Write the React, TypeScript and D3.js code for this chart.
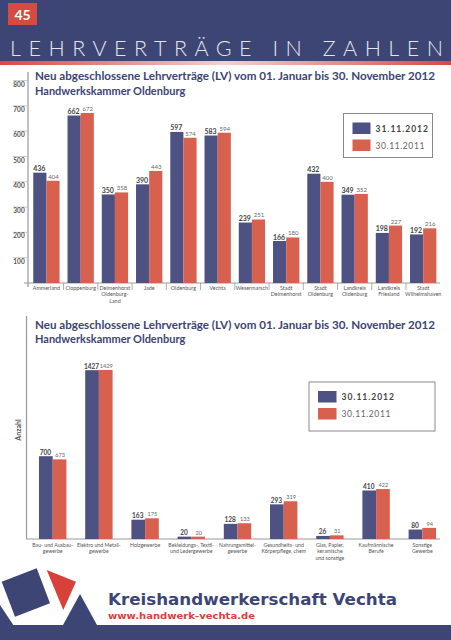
import React from 'react';
import * as d3 from 'd3';

const topCategories = [
  'Ammerland', 'Cloppenburg', 'Delmenhorst|Oldenburg-|Land', 'Jade', 'Oldenburg', 'Vechta',
  'Wesermarsch', 'Stadt|Delmenhorst', 'Stadt|Oldenburg', 'Landkreis|Oldenburg', 'Landkreis|Friesland', 'Stadt|Wilhelmshaven',
];
const topValues2012 = [436, 662, 350, 390, 597, 583, 239, 166, 432, 349, 198, 192];
const topValues2011 = [404, 672, 358, 443, 574, 594, 251, 180, 400, 352, 227, 216];
const topTicks = [100, 200, 300, 400, 500, 600, 700, 800];
const topLegend = ['31.11.2012', '30.11.2011'];

const bottomCategories = [
  'Bau- und Ausbau-|gewerbe', 'Elektro und Metall-|gewerbe', 'Holzgewerbe', 'Bekleidungs-, Textil-|und Ledergewerbe',
  'Nahrungsmittel-|gewerbe', 'Gesundheits- und|Körperpflege, chem', 'Glas, Papier,|keramische|und sonstige',
  'Kaufmännische|Berufe', 'Sonstige|Gewerbe',
];
const bottomValues2012 = [700, 1427, 163, 20, 128, 293, 26, 410, 80];
const bottomValues2011 = [673, 1429, 175, 20, 133, 319, 31, 422, 94];
const bottomLegend = ['30.11.2012', '30.11.2011'];

const titleLine1 = 'Neu abgeschlossene Lehrverträge (LV) vom 01. Januar bis 30. November 2012';
const titleLine2 = 'Handwerkskammer Oldenburg';

const NAVY = '#3c4574';
const BLUE = '#4d5283';
const RED = '#d8604f';
const GRAY = '#999';
const TXT = '#555';
const FONT = 'Lato, "Open Sans", sans-serif';

function BarChart(props: {
  cats: string[]; v1: number[]; v2: number[];
  xRange: [number, number]; pInner: number; yScale: d3.ScaleLinear<number, number>;
  labelY: number; lineH: number; seps: boolean; f1: number; f2: number; catFont: number;
}) {
  const { cats, v1, v2, xRange, pInner, yScale, labelY, lineH, seps, f1, f2, catFont } = props;
  const x0 = d3.scaleBand<string>().domain(cats).range(xRange).paddingInner(pInner).paddingOuter(pInner / 2);
  const x1 = d3.scaleBand<string>().domain(['a', 'b']).range([0, x0.bandwidth()]);
  const y0 = yScale(0);
  const step = x0.step();
  const gap = (step - x0.bandwidth()) / 2;
  return (
    <g>
      {cats.map((c, i) => {
        const bx = x0(c)!;
        const lines = c.split('|');
        return (
          <g key={c}>
            <rect x={bx + x1('a')!} y={yScale(v1[i])} width={x1.bandwidth()} height={y0 - yScale(v1[i])} fill={BLUE} />
            <rect x={bx + x1('b')!} y={yScale(v2[i])} width={x1.bandwidth()} height={y0 - yScale(v2[i])} fill={RED} />
            <text x={bx + x1('a')! + x1.bandwidth() / 2 - 0.5} y={yScale(v1[i]) - 1.5} textAnchor="middle"
              fontFamily={FONT} fontWeight="bold" fontSize={f1} fill="#444">{v1[i]}</text>
            <text x={bx + x1('b')! + x1.bandwidth() / 2 + 0.5} y={yScale(v2[i]) - 2} textAnchor="middle"
              fontFamily={FONT} fontSize={f2} fill="#666">{v2[i]}</text>
            {lines.map((l, j) => (
              <text key={j} x={bx + x0.bandwidth() / 2} y={labelY + j * lineH} textAnchor="middle"
                fontFamily={FONT} fontSize={catFont} fill={TXT}>{l}</text>
            ))}
            {seps && i > 0 && (
              <line x1={bx - gap} x2={bx - gap} y1={y0} y2={y0 + 7} stroke={GRAY} strokeWidth={0.8} />
            )}
          </g>
        );
      })}
    </g>
  );
}

function Legend(props: { x: number; y: number; w: number; h: number; labels: string[]; sw: number; fs: number }) {
  const { x, y, w, h, labels, sw, fs } = props;
  return (
    <g>
      <rect x={x} y={y} width={w} height={h} fill="#fff" stroke="#8a8a8a" strokeWidth={1} />
      <rect x={x + 9} y={y + 9} width={sw} height={11.5} fill={BLUE} />
      <rect x={x + 9} y={y + 26} width={sw} height={11.5} fill={RED} />
      <text x={x + 9 + sw + 5} y={y + 18} fontFamily={FONT} fontWeight="bold" fontSize={fs} letterSpacing={1} fill="#444">{labels[0]}</text>
      <text x={x + 9 + sw + 5} y={y + 35} fontFamily={FONT} fontSize={fs} letterSpacing={0.6} fill="#666">{labels[1]}</text>
    </g>
  );
}

export default function App() {
  const yTop = d3.scaleLinear().domain([0, 800]).range([283, 80.6]);
  const yBottom = d3.scaleLinear().domain([0, 1500]).range([539, 539 - 1500 * 0.1183]);
  return (
    <svg width={451} height={640} style={{ position: 'absolute', left: 0, top: 0, background: '#fff' }}>
      <defs>
        <linearGradient id="redline" x1="0" x2="1" y1="0" y2="0">
          <stop offset="0" stopColor="#d64a40" />
          <stop offset="0.5" stopColor="#f3d2c8" />
          <stop offset="1" stopColor="#d64a40" />
        </linearGradient>
      </defs>
      {/* header */}
      <rect x={0} y={0} width={451} height={62} fill={NAVY} />
      <rect x={0} y={61} width={451} height={4} fill="url(#redline)" />
      <rect x={8} y={3} width={29} height={22} fill="#d64a40" />
      <text x={22.5} y={19.5} textAnchor="middle" fontFamily={FONT} fontWeight="bold" fontSize={14} fill="#fff">45</text>
      <text x={10} y={56} fontFamily={FONT} fontWeight={300} fontSize={21.5} fill="#e4e5ee"
        textLength={433} lengthAdjust="spacing">LEHRVERTRÄGE IN ZAHLEN</text>

      {/* top chart */}
      <line x1={28} x2={28} y1={72} y2={287} stroke={GRAY} strokeWidth={1.2} />
      <line x1={24} x2={440} y1={283} y2={283} stroke={GRAY} strokeWidth={1.2} />
      {topTicks.map((t) => (
        <g key={t}>
          <line x1={13} x2={28} y1={yTop(t)} y2={yTop(t)} stroke="#bbb" strokeWidth={0.8} />
          <text x={19} y={yTop(t) + 6} textAnchor="middle" fontFamily={FONT} fontWeight="bold" fontSize={6.5} fill={TXT}>{t}</text>
        </g>
      ))}
      <text x={35} y={80} fontFamily={FONT} fontWeight="bold" fontSize={11} fill={NAVY} textLength={400} lengthAdjust="spacingAndGlyphs">{titleLine1}</text>
      <text x={35} y={94.5} fontFamily={FONT} fontWeight="bold" fontSize={11} fill={NAVY}>{titleLine2}</text>
      <BarChart cats={topCategories} v1={topValues2012} v2={topValues2011} xRange={[29.3, 440.3]} pInner={0.232}
        yScale={yTop} labelY={289.5} lineH={6.6} seps={true} f1={7} f2={6} catFont={5.4} />
      <Legend x={343.5} y={113.5} w={89} h={44} labels={topLegend} sw={18} fs={8.5} />

      {/* bottom chart */}
      <line x1={26.5} x2={26.5} y1={316} y2={539} stroke={GRAY} strokeWidth={1.2} />
      <line x1={26.5} x2={440} y1={539} y2={539} stroke={GRAY} strokeWidth={1.2} />
      <text x={35} y={328.5} fontFamily={FONT} fontWeight="bold" fontSize={11} fill={NAVY} textLength={400} lengthAdjust="spacingAndGlyphs">{titleLine1}</text>
      <text x={35} y={343} fontFamily={FONT} fontWeight="bold" fontSize={11} fill={NAVY}>{titleLine2}</text>
      <text transform="translate(21,430) rotate(-90)" textAnchor="middle" fontFamily={FONT} fontWeight="bold" fontSize={7} fill={TXT}>Anzahl</text>
      <BarChart cats={bottomCategories} v1={bottomValues2012} v2={bottomValues2011} xRange={[29.6, 445.4]} pInner={0.407}
        yScale={yBottom} labelY={546.5} lineH={6.7} seps={false} f1={6.5} f2={5.6} catFont={5.2} />
      <Legend x={309} y={382} w={126} h={49} labels={bottomLegend} sw={18.5} fs={8.5} />

      {/* footer */}
      <polygon points="1.7,581.7 36.7,568.3 50,603.3 15,616.7" fill={NAVY} />
      <polygon points="46.7,570 76,581.7 63.3,610" fill="#d8413a" />
      <polygon points="0,605 13.3,625 0,625" fill={NAVY} />
      <polygon points="80,594 97,625 63,625" fill={NAVY} />
      <rect x={0} y={625} width={451} height={15} fill={NAVY} />
      <text x={108} y={605} fontFamily='"DejaVu Sans", Verdana, sans-serif' fontWeight="bold" fontSize={16.5} fill={NAVY}
        textLength={289} lengthAdjust="spacingAndGlyphs">Kreishandwerkerschaft Vechta</text>
      <text x={108} y={619} fontFamily='"DejaVu Sans", Verdana, sans-serif' fontWeight="bold" fontSize={9.5} fill="#d8413a"
        textLength={147} lengthAdjust="spacingAndGlyphs">www.handwerk-vechta.de</text>
    </svg>
  );
}
